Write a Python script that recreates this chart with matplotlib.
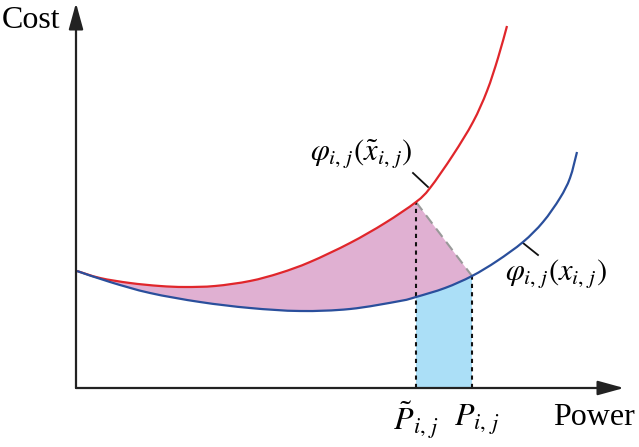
import numpy as np
import matplotlib.pyplot as plt
from matplotlib.path import Path
from matplotlib.patches import PathPatch

plt.rcParams['font.family'] = ['Liberation Serif', 'DejaVu Serif']
plt.rcParams['mathtext.fontset'] = 'stix'

# curves (power, cost) in arbitrary units
red_power = [1, 24, 54, 84, 109, 139, 174, 204, 234, 274, 309, 340, 354, 377, 397, 411, 422, 431]
red_cost = [117, 110, 105, 102, 101, 102, 107, 115, 126, 145, 165, 186, 200, 233, 266, 297, 330, 362]

blue_power = [1, 34, 74, 124, 174, 224, 274, 324, 340, 369, 396, 421, 447, 467, 484, 494, 501]
blue_cost = [117, 106, 95, 86, 80, 77, 79, 87, 91, 100, 112, 127, 146, 166, 190, 210, 236]

p_tilde = 340  # \tilde P_{i,j}
p_star = 396   # P_{i,j}


def bezier_segments(xs, ys):
    # smooth (Catmull-Rom style) cubic segments through the read points
    pts = np.column_stack([xs, ys]).astype(float)
    ext = np.vstack([pts[0], pts, pts[-1]])
    verts = [pts[0]]
    for i in range(1, len(ext) - 2):
        p0, p1, p2, p3 = ext[i - 1], ext[i], ext[i + 1], ext[i + 2]
        verts += [p1 + (p2 - p0) / 6, p2 - (p3 - p1) / 6, p2]
    codes = [Path.MOVETO] + [Path.CURVE4] * (len(verts) - 1)
    return np.array(verts), codes


def curve_patch(xs, ys, **kw):
    v, c = bezier_segments(xs, ys)
    return PathPatch(Path(v, c), fill=False, **kw)


red_power = np.array(red_power)
red_cost = np.array(red_cost)
blue_power = np.array(blue_power)
blue_cost = np.array(blue_cost)

fig = plt.figure(figsize=(6.39, 4.47), dpi=100)
ax = fig.add_axes([0, 0, 1, 1])
ax.set_xlim(-76, 563)
ax.set_ylim(-59, 388)
ax.axis('off')

red_c = '#e0262b'
blue_c = '#2a4f9c'

# pink region between the two curves, closed by the dashed chord
rm = red_power <= p_tilde
bm = blue_power <= p_star
v1, c1 = bezier_segments(red_power[rm], red_cost[rm])
v2, c2 = bezier_segments(blue_power[bm][::-1], blue_cost[bm][::-1])
c2 = [Path.LINETO] + c2[1:]
verts = np.vstack([v1, v2, v1[:1]])
codes = c1 + c2 + [Path.CLOSEPOLY]
ax.add_patch(PathPatch(Path(verts, codes), facecolor='#e0b0d2', lw=0, zorder=1))

# light blue area under the blue curve between the two powers
sm = (blue_power >= p_tilde) & (blue_power <= p_star)
v3, c3 = bezier_segments(blue_power[sm], blue_cost[sm])
verts = np.vstack([v3, [[p_star, 0], [p_tilde, 0], v3[0]]])
codes = c3 + [Path.LINETO, Path.LINETO, Path.CLOSEPOLY]
ax.add_patch(PathPatch(Path(verts, codes), facecolor='#abdff7', lw=0, zorder=1))

ax.add_patch(curve_patch(red_power, red_cost, edgecolor=red_c, lw=1.6, zorder=3))
ax.add_patch(curve_patch(blue_power, blue_cost, edgecolor=blue_c, lw=1.6, zorder=3))

red_at_pt = np.interp(p_tilde, red_power, red_cost)
blue_at_ps = np.interp(p_star, blue_power, blue_cost)

ax.plot([p_tilde, p_star], [red_at_pt, blue_at_ps], color='#999999', lw=1.5,
        ls=(0, (5, 3)), zorder=2)
ax.plot([p_tilde, p_tilde], [0, red_at_pt], color='#111111', lw=1.5, ls=(0, (2, 2)), zorder=2)
ax.plot([p_star, p_star], [0, blue_at_ps], color='#111111', lw=1.5, ls=(0, (2, 2)), zorder=2)

# axes with arrows
arr = dict(arrowstyle='-|>,head_length=0.8,head_width=0.22', lw=1.6, color='#222222',
           mutation_scale=20, shrinkA=0, shrinkB=0)
ax.annotate('', xy=(0, 385), xytext=(0, 0), arrowprops=arr, zorder=4)
ax.annotate('', xy=(548, 0), xytext=(0, 0), arrowprops=arr, zorder=4)

ax.text(-74, 360, 'Cost', fontsize=23, ha='left', va='baseline')
ax.text(477, -37, 'Power', fontsize=23, ha='left', va='baseline')
ax.text(p_tilde, -32, r'$\tilde{P}_{i,\,j}$', fontsize=23, ha='center', va='center')
ax.text(p_star + 5, -32, r'$P_{i,\,j}$', fontsize=23, ha='center', va='center')

ax.text(234, 235, r'$\varphi_{i,\,j}(\tilde{x}_{i,\,j})$', fontsize=22, ha='left', va='center')
ax.text(429, 115, r'$\varphi_{i,\,j}(x_{i,\,j})$', fontsize=22, ha='left', va='center')
ax.plot([337, 352], [215, 201], color='#111111', lw=1.3)
ax.plot([447, 462], [145, 133], color='#111111', lw=1.3)

fig.savefig('out.png', dpi=100)
